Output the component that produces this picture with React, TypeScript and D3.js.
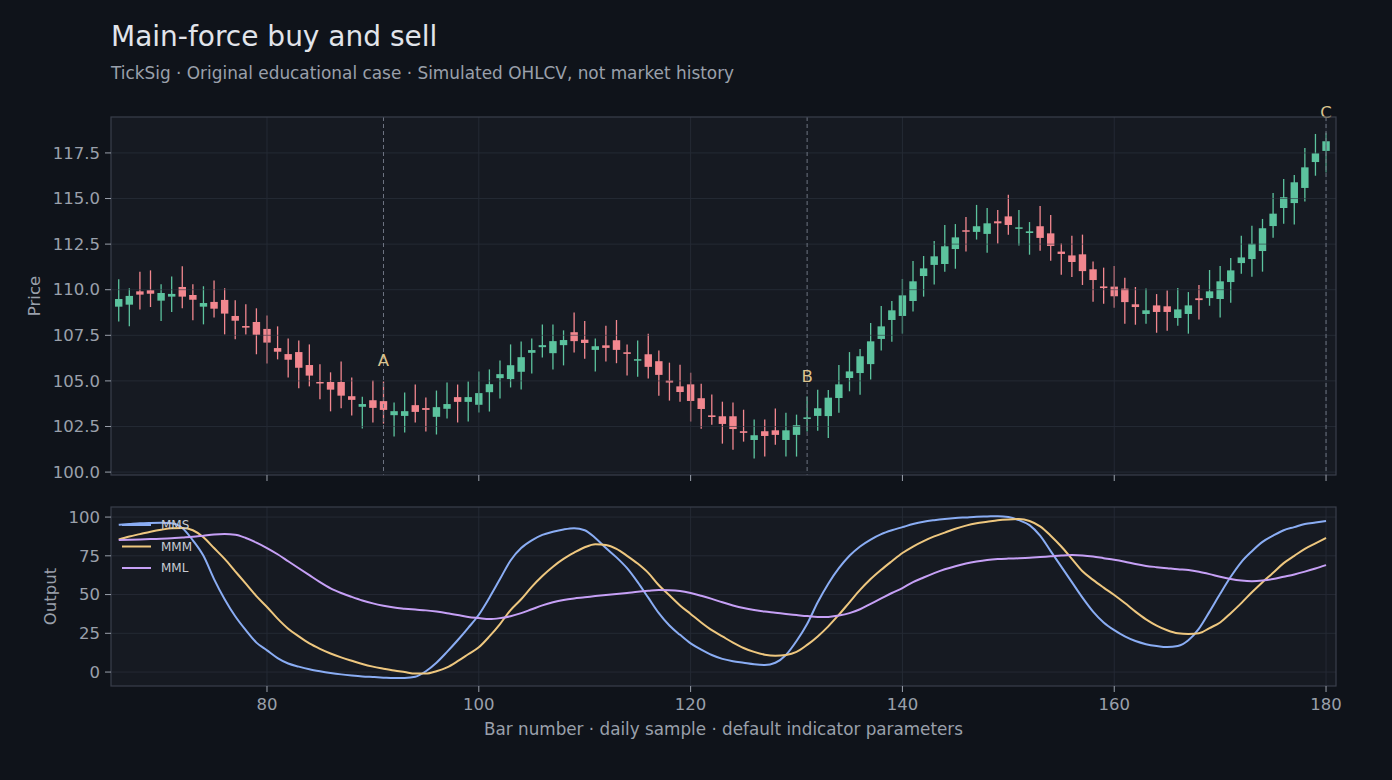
import React from "react";
import * as d3 from "d3";

const bars = d3.range(66, 181);
const opens = [109.07,109.18,109.91,109.97,109.40,109.62,110.15,109.71,109.07,109.33,109.44,108.56,108.01,108.23,107.85,106.80,106.47,106.58,105.87,104.94,104.94,104.94,104.16,103.58,103.94,103.89,103.12,103.08,103.67,103.51,103.03,103.47,104.11,103.85,103.69,104.38,105.15,105.10,105.50,106.54,106.85,106.52,106.96,107.67,107.26,106.70,106.95,107.23,106.57,106.15,106.46,106.08,105.02,104.70,104.81,104.05,103.11,103.06,103.06,102.24,101.76,102.24,102.29,101.76,102.04,102.91,103.08,103.07,104.06,105.16,105.43,105.92,107.30,108.34,108.56,109.38,110.75,111.36,111.41,112.23,113.26,113.17,113.06,113.75,114.02,113.38,113.11,113.48,113.09,112.09,111.88,111.94,111.12,110.18,110.17,110.06,109.20,108.67,109.14,109.09,108.45,108.67,109.53,109.54,109.49,110.42,111.46,111.68,112.12,113.49,114.48,114.75,115.58,117.00,117.61];
const highs = [110.57,110.08,110.99,111.06,110.30,110.73,111.28,110.30,110.19,110.51,110.08,109.42,109.20,108.98,108.59,107.99,107.33,107.22,107.00,105.91,105.47,106.07,105.19,104.13,105.02,104.97,103.82,104.36,104.80,104.09,104.47,104.91,104.80,104.97,105.52,105.63,106.12,107.00,107.16,107.33,108.09,108.09,107.77,108.75,108.29,107.32,108.03,108.34,106.99,107.21,107.59,106.66,106.00,105.89,105.45,104.85,104.25,103.86,103.81,103.42,102.88,102.88,103.48,103.26,103.15,104.14,104.52,104.50,105.87,106.58,106.75,108.17,109.11,109.38,110.59,111.57,111.85,112.67,113.55,113.60,113.99,114.65,114.48,114.37,115.21,114.37,113.71,114.59,114.10,112.53,112.96,113.02,111.54,111.21,111.30,110.66,110.15,110.06,109.76,109.95,110.09,109.87,110.26,111.08,111.30,111.74,112.96,113.51,113.88,115.30,116.07,116.29,117.77,118.54,118.61];
const lows = [108.25,107.99,108.92,109.05,108.28,108.78,108.98,108.32,108.10,108.48,107.55,107.28,107.55,106.46,105.96,106.18,105.19,104.59,104.70,103.99,103.33,103.50,103.10,102.39,102.72,102.66,101.95,102.17,102.72,102.23,102.06,102.94,102.72,102.77,103.27,103.32,104.04,104.64,104.53,105.41,106.28,105.63,105.85,106.56,106.22,105.51,106.06,105.97,105.29,105.23,105.13,104.19,103.92,103.86,102.77,102.38,102.60,101.56,101.23,101.67,100.74,100.85,101.50,100.85,100.85,102.22,102.27,101.87,103.25,104.43,104.24,105.07,106.67,107.15,107.59,108.80,109.62,110.28,110.99,111.15,112.09,112.75,112.03,112.53,113.02,112.42,111.92,112.14,111.59,110.82,110.70,110.26,109.34,109.23,109.01,108.14,108.08,108.14,107.64,107.75,108.03,107.59,108.36,109.12,108.47,109.29,110.88,110.71,110.99,112.85,113.62,113.58,114.83,116.25,116.42];
const closes = [109.49,109.66,109.73,109.78,109.82,109.77,109.62,109.45,109.27,108.96,108.69,108.30,107.92,107.53,107.10,106.60,106.16,105.72,105.29,104.90,104.52,104.19,103.96,103.73,103.52,103.41,103.34,103.34,103.30,103.41,103.56,103.73,103.85,104.11,104.33,104.82,105.37,105.86,106.30,106.69,106.96,107.18,107.24,107.18,107.08,106.90,106.81,106.70,106.48,106.19,105.77,105.33,104.91,104.39,103.90,103.46,103.02,102.64,102.36,102.15,102.02,101.98,102.04,102.29,102.57,103.00,103.50,104.08,104.81,105.52,106.35,107.17,107.99,108.87,109.69,110.46,111.17,111.83,112.38,112.87,113.22,113.48,113.64,113.64,113.55,113.42,113.20,112.84,112.40,111.96,111.52,111.02,110.53,110.09,109.64,109.32,109.05,108.87,108.78,108.78,108.92,109.14,109.43,109.91,110.46,111.06,111.77,112.52,113.37,114.17,115.07,115.89,116.71,117.48,118.14];

const mms = [95,95.5,96,96.2,96.3,96,93,85,75,60,47,36,27,19,14,9,5.5,3.5,1.8,0.5,-0.6,-1.5,-2.2,-2.8,-3.2,-3.6,-3.9,-3.8,-3,0.5,6,13,20.5,28.5,37,48,60,72,80,85,88.5,90.5,92,92.8,91.5,86.5,80,74,67,58,48,38,30,24,18.5,14.5,11,8.5,7,6,5,4.5,6,11,20,31,45,57,67,75,81,85.5,89,91.5,93.5,95.5,97,98,98.8,99.4,99.8,100.2,100.4,100.6,100,98,94.8,88,78,68,58,48,39,32,27,23,20,18,16.8,16.1,16.8,20.5,28,39,50.5,61.5,71,78,84,88,91.5,93.5,95.5,96.5,97.4];
const mmm = [85.6,87.5,89,90.5,91.8,92.8,93,91.5,87,80,73,65,57,49,42,34.5,28,23,18.5,15,12,9.5,7.3,5.2,3.5,2.2,1,0,-1,-1,0.5,3,7,11.5,16,23,31,40,47,55,62,68,73,77,80.5,82.5,82,79.5,75,70,64,56,49.5,43,37.5,32,27,23,19,15.5,13,11.2,10.5,11,13,17.5,23,29.5,37,45,53,60,66,71.5,76.8,81,84.5,87.5,90,92.5,94.5,96,97,98,98.5,98.7,97.5,94,88,81,73,65,59.5,54.5,49.7,44.5,39,34,30,27,25,24.5,25,28.4,32,38,44.5,51.5,58,64,70.3,75,79.5,83,86.5];
const mml = [85.2,85.4,85.6,85.8,86,86.3,86.8,87.3,88,88.7,89,88.6,86.5,83.5,80,76,71.5,67,62.5,58,54,51,48.5,46.2,44.3,42.8,41.6,40.9,40.3,39.8,39,38,36.8,35.5,34.8,34.2,34.8,36,38,40.5,43,45,46.5,47.5,48.2,49,49.7,50.3,51,51.8,52.4,52.9,52.8,52.3,51,49.2,47.2,45,43,41.3,40,39,38.3,37.5,36.8,36.1,35.6,35.6,36.5,38,40.5,44,47.5,51,54.2,58,61,63.8,66.3,68.3,70,71.3,72.3,72.9,73.2,73.4,73.7,74.2,74.7,75.2,75.5,75.2,74.5,73.5,72.5,71.2,69.7,68.5,67.7,67,66.3,65.8,64.7,63.2,61.5,60,59,58.6,59,60,61.5,63,64.8,66.8,69];

const priceTicks = [100, 102.5, 105, 107.5, 110, 112.5, 115, 117.5];
const outTicks = [0, 25, 50, 75, 100];
const xTicks = [80, 100, 120, 140, 160, 180];
const markers = [{ bar: 91, label: "A" }, { bar: 131, label: "B" }, { bar: 180, label: "C" }];
const seriesNames = ["MMS", "MMM", "MML"];

const W = 1392, H = 780;
const L = 111, R = 1336;
const P1 = { top: 117, bottom: 475 };
const P2 = { top: 507, bottom: 686 };
const BG = "#0f131a";
const AX = "#161a22";
const SPINE = "#3a3f4b";
const GRID = "#2e3440";
const TICK = "#9aa0ab";
const UP = "#5cc39e";
const DOWN = "#f2878f";
const COLORS = ["#8aadf4", "#eec77f", "#c6a0f6"];
const FONT = "DejaVu Sans, sans-serif";
const TFS = 16.5;

export default function App() {
  const x = d3.scaleLinear().domain([65.27, 180.94]).range([L, R]);
  const yP = d3.scaleLinear().domain([99.84, 119.47]).range([P1.bottom, P1.top]);
  const yO = d3.scaleLinear().domain([-9.0, 106.5]).range([P2.bottom, P2.top]);
  const bw = (x(1) - x(0)) * 0.7;
  const seriesData = [mms, mmm, mml];
  const line = d3.line<number>().x((_, i) => x(bars[i])).y((v) => yO(v)).curve(d3.curveMonotoneX);

  return (
    <svg width={W} height={H} style={{ position: "absolute", left: 0, top: 0, display: "block" }} fontFamily={FONT}>
      <rect width={W} height={H} fill={BG} />
      <text x={111} y={46} fill="#e1e4ea" fontSize={28}>Main-force buy and sell</text>
      <text x={111} y={79} fill="#9aa0ab" fontSize={16.9}>TickSig · Original educational case · Simulated OHLCV, not market history</text>

      {/* Price panel */}
      <rect x={L} y={P1.top} width={R - L} height={P1.bottom - P1.top} fill={AX} />
      <g>
        {bars.map((b, i) => {
          const up = closes[i] >= opens[i];
          const c = up ? UP : DOWN;
          const top = yP(Math.max(opens[i], closes[i]));
          const bot = yP(Math.min(opens[i], closes[i]));
          return (
            <g key={b}>
              <line x1={x(b)} x2={x(b)} y1={yP(highs[i])} y2={yP(lows[i])} stroke={c} strokeWidth={1.3} />
              <rect x={x(b) - bw / 2} y={top} width={bw} height={Math.max(1.5, bot - top)} fill={c} />
            </g>
          );
        })}
      </g>
      <g opacity={0.6}>
        {priceTicks.map((t) => (
          <line key={t} x1={L} x2={R} y1={yP(t)} y2={yP(t)} stroke={GRID} strokeWidth={1} />
        ))}
        {xTicks.map((t) => (
          <line key={t} x1={x(t)} x2={x(t)} y1={P1.top} y2={P1.bottom} stroke={GRID} strokeWidth={1} />
        ))}
      </g>
      {markers.map((m) => {
        const i = bars.indexOf(m.bar);
        return (
          <g key={m.label}>
            <line x1={x(m.bar)} x2={x(m.bar)} y1={P1.top} y2={P1.bottom} stroke="#6e7482" strokeWidth={1} strokeDasharray="4,3" />
            <text x={x(m.bar)} y={yP(highs[i]) - 15} fill="#dcc38e" fontSize={16.5} textAnchor="middle">{m.label}</text>
          </g>
        );
      })}
      <rect x={L} y={P1.top} width={R - L} height={P1.bottom - P1.top} fill="none" stroke={SPINE} strokeWidth={1.2} />
      {priceTicks.map((t) => (
        <g key={t}>
          <line x1={L - 6} x2={L} y1={yP(t)} y2={yP(t)} stroke={TICK} strokeWidth={1} />
          <text x={L - 11} y={yP(t)} dy="0.35em" fill={TICK} fontSize={TFS} textAnchor="end">{t.toFixed(1)}</text>
        </g>
      ))}
      {xTicks.map((t) => (
        <line key={t} x1={x(t)} x2={x(t)} y1={P1.bottom} y2={P1.bottom + 6} stroke={TICK} strokeWidth={1} />
      ))}
      <text transform={`translate(40,${(P1.top + P1.bottom) / 2}) rotate(-90)`} fill={TICK} fontSize={TFS} textAnchor="middle">Price</text>

      {/* Output panel */}
      <rect x={L} y={P2.top} width={R - L} height={P2.bottom - P2.top} fill={AX} />
      <g opacity={0.6}>
        {outTicks.map((t) => (
          <line key={t} x1={L} x2={R} y1={yO(t)} y2={yO(t)} stroke={GRID} strokeWidth={1} />
        ))}
        {xTicks.map((t) => (
          <line key={t} x1={x(t)} x2={x(t)} y1={P2.top} y2={P2.bottom} stroke={GRID} strokeWidth={1} />
        ))}
      </g>
      {seriesData.map((s, k) => (
        <path key={k} d={line(s) || ""} fill="none" stroke={COLORS[k]} strokeWidth={2} />
      ))}
      {seriesNames.map((n, k) => (
        <g key={n}>
          <line x1={122} x2={151} y1={525 + k * 21.5} y2={525 + k * 21.5} stroke={COLORS[k]} strokeWidth={2} />
          <text x={161} y={525 + k * 21.5} dy="0.35em" fill="#c8ccd4" fontSize={12}>{n}</text>
        </g>
      ))}
      <rect x={L} y={P2.top} width={R - L} height={P2.bottom - P2.top} fill="none" stroke={SPINE} strokeWidth={1.2} />
      {outTicks.map((t) => (
        <g key={t}>
          <line x1={L - 6} x2={L} y1={yO(t)} y2={yO(t)} stroke={TICK} strokeWidth={1} />
          <text x={L - 11} y={yO(t)} dy="0.35em" fill={TICK} fontSize={TFS} textAnchor="end">{t}</text>
        </g>
      ))}
      {xTicks.map((t) => (
        <g key={t}>
          <line x1={x(t)} x2={x(t)} y1={P2.bottom} y2={P2.bottom + 6} stroke={TICK} strokeWidth={1} />
          <text x={x(t)} y={P2.bottom + 24} fill={TICK} fontSize={TFS} textAnchor="middle">{t}</text>
        </g>
      ))}
      <text transform={`translate(56,${(P2.top + P2.bottom) / 2}) rotate(-90)`} fill={TICK} fontSize={TFS} textAnchor="middle">Output</text>
      <text x={(L + R) / 2} y={735} fill={TICK} fontSize={16.8} textAnchor="middle">Bar number · daily sample · default indicator parameters</text>
    </svg>
  );
}
